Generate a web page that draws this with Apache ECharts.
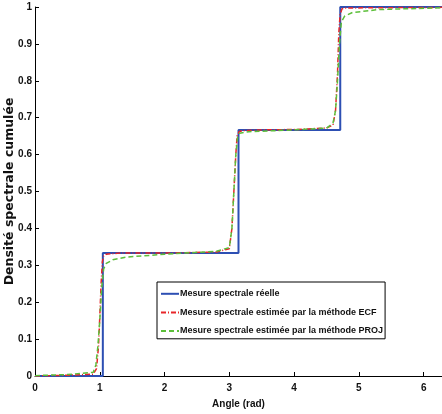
<!DOCTYPE html>
<html><head><meta charset="utf-8">
<script src="https://cdn.jsdelivr.net/npm/echarts@6/dist/echarts.min.js"></script>
<style>html,body{margin:0;padding:0;background:#fff}#c{width:442px;height:414px}</style>
</head><body><div id="c"></div>
<script>
const seriesNames = ['Mesure spectrale réelle','Mesure spectrale estimée par la méthode ECF','Mesure spectrale estimée par la méthode PROJ'];
const PI = Math.PI;
const trueX = [0, PI/3, PI/3, PI, PI, 3*PI/2, 3*PI/2, 2*PI];
const trueY = [0, 0, 1/3, 1/3, 2/3, 2/3, 1, 1];
const ecfX = [0, 0.5, 0.9, 0.95, 0.98, 1.0, 1.02, 1.04, 1.06, 1.1, 1.3, 2.0, 2.8, 3.0, 3.04, 3.07, 3.1, 3.12, 3.15, 3.2, 3.5, 4.0, 4.5, 4.6, 4.64, 4.67, 4.69, 4.71, 4.74, 4.8, 5.2, 6.283];
const ecfY = [0, 0.002, 0.005, 0.02, 0.08, 0.16, 0.25, 0.31, 0.325, 0.33, 0.333, 0.333, 0.336, 0.345, 0.40, 0.50, 0.60, 0.65, 0.662, 0.665, 0.667, 0.668, 0.672, 0.68, 0.72, 0.82, 0.93, 0.98, 0.995, 0.997, 0.998, 0.999];
const projX = [0, 0.5, 0.9, 0.94, 0.97, 1.0, 1.03, 1.06, 1.1, 1.2, 1.4, 2.0, 2.8, 3.0, 3.04, 3.07, 3.1, 3.13, 3.16, 3.3, 4.0, 4.5, 4.6, 4.64, 4.67, 4.7, 4.73, 4.78, 4.9, 5.3, 6.283];
const projY = [0.001, 0.004, 0.01, 0.03, 0.08, 0.15, 0.24, 0.29, 0.305, 0.315, 0.322, 0.33, 0.338, 0.348, 0.40, 0.50, 0.60, 0.65, 0.658, 0.662, 0.667, 0.672, 0.685, 0.72, 0.80, 0.90, 0.96, 0.975, 0.985, 0.993, 0.998];
const xTicks = [0,1,2,3,4,5,6];
const yTicks = [0,0.1,0.2,0.3,0.4,0.5,0.6,0.7,0.8,0.9,1];
const xTitle = 'Angle (rad)';
const yTitle = 'Densité spectrale cumulée';

const zip = (xs, ys) => xs.map((x,i)=>[x, ys[i]]);
const font = 'Liberation Sans, Arial, sans-serif';
const chart = echarts.init(document.getElementById('c'), null, {renderer:'canvas'});
chart.setOption({
  animation:false,
  grid:{left:35, right:0, top:7, bottom:38, containLabel:false, outerBoundsMode:'none'},
  xAxis:{type:'value', min:0, max:2*PI, interval:1,
    name:xTitle, nameLocation:'middle', nameGap:23, nameMoveOverlap:false,
    nameTextStyle:{fontFamily:font, fontWeight:'bold', fontSize:10, color:'#111'},
    axisLine:{lineStyle:{color:'#000', width:1}},
    axisTick:{inside:true, length:4, lineStyle:{color:'#000'}},
    axisLabel:{showMaxLabel:false, fontFamily:font, fontWeight:'bold', fontSize:10, color:'#111', margin:7,
      formatter:v=> xTicks.includes(v) ? String(v) : ''},
    splitLine:{show:false}},
  yAxis:{type:'value', min:0, max:1, interval:0.1,
    name:yTitle, nameLocation:'middle', nameGap:19, nameMoveOverlap:false,
    nameTextStyle:{fontFamily:'DejaVu Sans, sans-serif', fontWeight:'bold', fontSize:12.5, color:'#111'},
    axisLine:{lineStyle:{color:'#000', width:1}},
    axisTick:{inside:true, length:4, lineStyle:{color:'#000'}},
    axisLabel:{fontFamily:font, fontWeight:'bold', fontSize:10, color:'#111', margin:3,
      formatter:v=>{const t=yTicks.find(k=>Math.abs(k-v)<1e-9); return t===undefined?'':String(t);}},
    splitLine:{show:false}},
  legend:{orient:'vertical', left:157, top:282, itemWidth:18, itemHeight:12, itemGap:9,
    padding:[7,2,3,3], borderColor:'#000', borderWidth:1, backgroundColor:'#fff',
    itemStyle:{opacity:0},
    textStyle:{fontFamily:font, fontWeight:'bold', fontSize:9, color:'#111', padding:[0,0,0,-4]},
    data:seriesNames},
  series:[
    {name:seriesNames[0], type:'line', data:zip(trueX,trueY), symbol:'none', z:3,
      lineStyle:{color:'#2d4fb3', width:2}, itemStyle:{color:'#2d4fb3'}},
    {name:seriesNames[1], type:'line', data:zip(ecfX,ecfY), symbol:'none', z:4,
      lineStyle:{color:'#e8262a', width:1.5, type:[5,2,1,2]}, itemStyle:{color:'#e8262a'}},
    {name:seriesNames[2], type:'line', data:zip(projX,projY), symbol:'none', z:5,
      lineStyle:{color:'#5cbf3a', width:1.5, type:[5,3]}, itemStyle:{color:'#5cbf3a'}}
  ]
});
</script></body></html>
